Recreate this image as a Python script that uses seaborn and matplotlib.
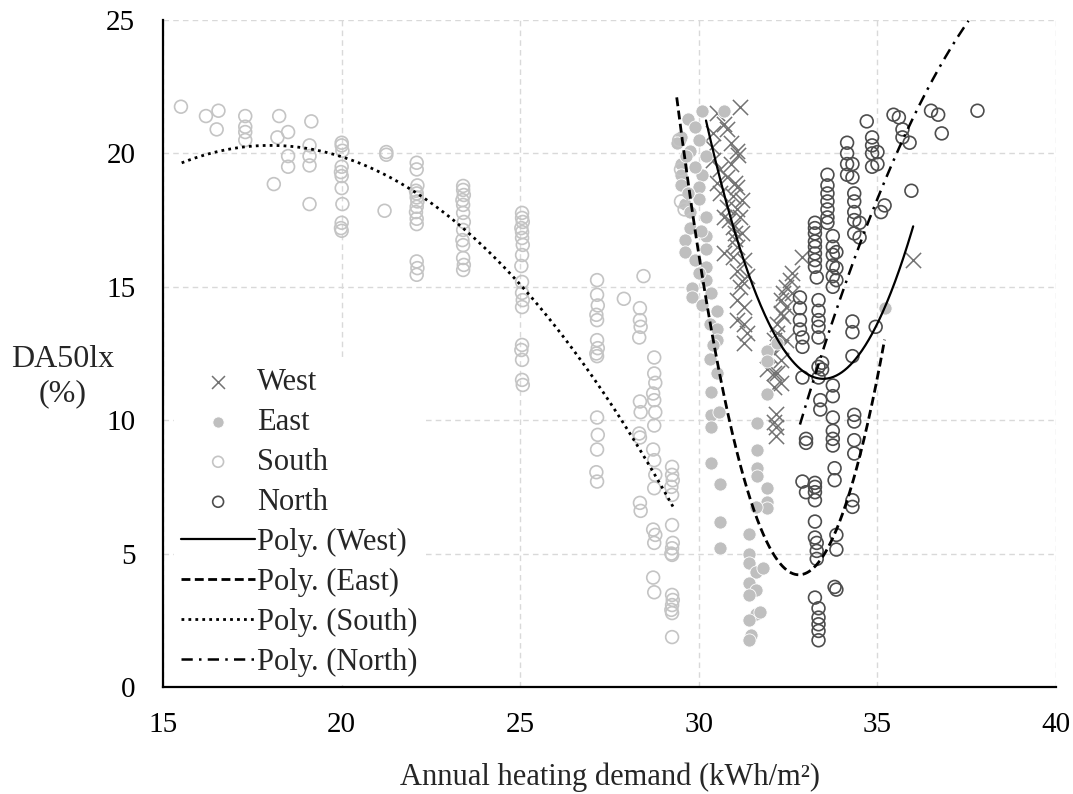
import numpy as np
import pandas as pd
import matplotlib
matplotlib.use("Agg")
import matplotlib.pyplot as plt
import seaborn as sns

# ---- scatter data: annual heating demand (kWh/m2) vs DA50lx (%) ----
west_x = [31.15, 30.5, 30.7, 30.4, 30.8, 30.37, 31.07, 31.1, 30.4, 30.6, 30.8, 30.5, 31.07, 30.6,
          30.95, 31.2, 30.8, 31.07, 30.7, 31.15, 30.95, 31.2, 30.7, 31.07, 30.95, 31.25, 31.07, 31.35,
          31.15, 31.07, 31.25, 31.07, 31.25, 31.35, 31.25, 32.3, 32.2, 32.3, 32.9, 32.6, 32.55, 32.45,
          32.35, 32.6, 32.3, 32.45, 32.35, 32.2, 32.1, 32.45, 32.0, 32.3, 31.9, 32.2, 36.0, 32.1,
          32.3, 32.1, 32.15, 32.15, 32.15, 32.1, 30.9, 31.0, 30.85, 31.0, 31.2, 30.9, 31.0]
west_y = [21.75, 21.5, 21.1, 20.75, 20.9, 20.25, 20.1, 19.95, 19.75, 19.4, 19.1, 18.9, 18.75, 18.5,
          18.4, 18.25, 18.0, 17.9, 17.6, 17.6, 17.25, 17.0, 16.25, 16.5, 16.1, 16.0, 15.6, 15.4,
          15.0, 14.5, 14.25, 13.75, 13.6, 13.25, 12.9, 14.0, 13.25, 12.75, 16.1, 15.5, 15.25, 15.0,
          14.75, 14.75, 14.5, 14.25, 13.9, 13.6, 13.0, 13.0, 12.4, 12.25, 11.9, 11.75, 16.0, 11.75,
          11.4, 11.25, 10.25, 9.75, 9.4, 9.95, 19.6, 18.9, 17.5, 16.8, 15.2, 20.4, 17.0]

east_x = [29.7, 30.1, 30.7, 29.5, 29.4, 29.75, 30.2, 29.5, 29.5, 30.1, 29.5, 30.0, 29.6, 30.0,
          29.75, 30.2, 29.75, 30.2, 29.6, 29.6, 30.2, 30.2, 29.8, 29.8, 30.2, 30.35, 30.5, 30.3,
          30.5, 30.5, 30.3, 30.5, 30.35, 30.35, 30.55, 30.35, 30.35, 30.6, 30.6, 30.6, 31.63, 31.63,
          31.63, 31.63, 31.9, 31.9, 31.9, 31.6, 31.4, 31.4, 31.4, 31.6, 31.8, 31.4, 31.6, 31.4,
          31.6, 31.4, 31.45, 31.4, 31.9, 31.9, 32.2, 35.2, 31.9, 31.7, 29.9, 30.0, 29.65, 29.9,
          29.7, 30.05, 29.9, 30.0, 30.1, 30.4]
east_y = [21.3, 21.6, 21.6, 20.6, 20.4, 20.1, 19.9, 19.6, 19.2, 19.2, 18.8, 18.75, 18.1, 18.3,
          17.8, 17.6, 17.2, 16.9, 16.75, 16.3, 16.4, 15.75, 14.95, 14.6, 15.25, 14.75, 14.1, 13.6,
          13.4, 13.0, 12.3, 11.75, 11.05, 10.2, 10.3, 9.75, 8.4, 7.6, 6.2, 5.2, 9.9, 8.9,
          8.2, 7.9, 7.45, 6.95, 6.7, 6.75, 5.75, 5.0, 4.65, 4.3, 4.45, 3.9, 3.65, 3.45,
          2.75, 2.5, 1.95, 1.75, 12.6, 12.2, 12.9, 14.2, 11.0, 2.8, 21.0, 20.5, 19.9, 19.5,
          18.5, 17.1, 16.0, 15.5, 14.3, 12.8]

south_x = [15.5, 16.2, 16.55, 16.5, 17.3, 17.3, 17.3, 17.3, 18.25, 18.2, 18.5, 18.1, 18.5, 18.5,
           19.15, 19.1, 19.1, 19.1, 19.1,
           20.0, 20.0, 20.02, 20.0, 19.98, 20.0, 20.0, 20.02, 20.0, 19.98, 20.0,
           21.25, 21.25, 21.2,
           22.1, 22.1, 22.12, 22.08, 22.1, 22.1, 22.12, 22.1, 22.08, 22.1, 22.1, 22.1, 22.12, 22.1,
           23.4, 23.4, 23.42, 23.38, 23.4, 23.4, 23.42, 23.4, 23.38, 23.4, 23.4, 23.42, 23.4,
           25.05, 25.05, 25.07, 25.03, 25.05, 25.05, 25.07, 25.05, 25.03, 25.05, 25.05, 25.07, 25.05,
           25.05, 25.03, 25.05, 25.05, 25.07,
           27.15, 27.15, 27.17, 27.13, 27.15, 27.15, 27.17, 27.13, 27.15, 27.15, 27.17, 27.15, 27.13,
           27.15, 27.9,
           28.35, 28.35, 28.37, 28.33, 28.35, 28.37, 28.33, 28.35, 28.35, 28.37, 28.45,
           28.75, 28.75, 28.78, 28.72, 28.75, 28.78, 28.75, 28.72, 28.75, 28.78, 28.75, 28.72, 28.78,
           28.75, 28.72, 28.75,
           29.25, 29.25, 29.27, 29.23, 29.25, 29.25, 29.27, 29.25, 29.23, 29.25, 29.25, 29.27, 29.25,
           29.23, 29.25, 29.25, 29.45, 29.5, 29.5, 29.6]
south_y = [21.75, 21.4, 21.6, 20.9, 21.4, 21.0, 20.8, 20.5, 21.4, 20.6, 20.8, 18.85, 19.9, 19.5,
           21.2, 20.3, 19.9, 19.55, 18.1,
           20.4, 20.3, 20.1, 19.5, 19.3, 19.15, 18.7, 18.1, 17.4, 17.2, 17.1,
           20.05, 19.95, 17.85,
           19.65, 19.4, 18.8, 18.6, 18.5, 18.35, 18.2, 18.0, 17.8, 17.55, 17.35, 15.95, 15.7, 15.45,
           18.78, 18.63, 18.44, 18.25, 18.07, 17.77, 17.43, 17.13, 16.75, 16.56, 16.08, 15.82, 15.63,
           17.77, 17.58, 17.43, 17.2, 17.05, 16.83, 16.57, 16.19, 15.78, 15.18, 14.77, 14.5, 14.24,
           12.82, 12.63, 12.26, 11.51, 11.32,
           15.25, 14.7, 14.3, 13.95, 13.75, 13.0, 12.7, 12.5, 12.4, 10.1, 9.45, 8.9, 8.05,
           7.7, 14.55,
           14.2, 13.75, 13.5, 13.1, 10.7, 10.3, 9.5, 9.35, 6.9, 6.6, 15.4,
           12.35, 11.75, 11.4, 11.0, 10.75, 10.3, 9.8, 8.9, 8.5, 7.95, 7.45, 5.9, 5.7,
           5.4, 4.1, 3.55,
           8.25, 7.95, 7.75, 7.5, 7.2, 6.07, 5.4, 5.2, 5.0, 4.95, 3.45, 3.26, 3.07,
           2.89, 2.77, 1.87, 20.5, 19.4, 18.2, 17.9]

north_x = [32.83, 32.83, 32.83, 32.83, 32.9, 32.9, 32.9, 33.0, 33.0, 32.9, 33.0,
           33.25, 33.25, 33.25, 33.25, 33.25, 33.25, 33.25, 33.25, 33.3, 33.35, 33.35, 33.35, 33.35,
           33.35, 33.25, 33.25, 33.25, 33.25, 33.25, 33.25, 33.3, 33.3, 33.3, 33.25, 33.35, 33.35,
           33.35, 33.35, 33.35, 33.45, 33.45, 33.4, 33.4, 33.35, 33.35,
           33.6, 33.6, 33.6, 33.6, 33.6, 33.6, 33.6, 33.75, 33.75, 33.75, 33.75, 33.75, 33.75,
           33.85, 33.85, 33.85, 33.75, 33.75, 33.75, 33.75, 33.75, 33.75, 33.8, 33.8, 33.85, 33.85,
           33.8, 33.85,
           34.15, 34.15, 34.15, 34.15, 34.3, 34.3, 34.35, 34.35, 34.35, 34.35, 34.35, 34.5, 34.5,
           34.3, 34.3, 34.3, 34.35, 34.35, 34.35, 34.35, 34.3, 34.3,
           34.7, 34.85, 34.85, 34.85, 34.85, 35.0, 35.0, 34.95, 35.1, 35.2, 35.45, 35.6, 35.7,
           35.7, 35.9, 35.95, 36.5, 36.7, 36.8, 37.8]
north_y = [14.6, 14.2, 13.75, 13.4, 13.1, 12.75, 11.6, 9.3, 9.15, 7.7, 7.3,
           17.4, 17.2, 17.0, 16.7, 16.5, 16.25, 16.0, 15.75, 15.35, 14.5, 14.1, 13.75, 13.5,
           13.1, 7.65, 7.5, 7.3, 7.0, 6.2, 5.6, 5.4, 5.1, 4.8, 3.35, 2.95, 2.6,
           2.35, 2.1, 1.75, 12.15, 11.9, 10.75, 10.4, 12.0, 11.6,
           19.2, 18.8, 18.5, 18.2, 17.9, 17.6, 17.4, 16.9, 16.5, 16.2, 15.8, 15.4, 15.0,
           16.3, 15.7, 15.25, 11.3, 10.9, 10.1, 9.6, 9.3, 9.05, 8.2, 7.75, 5.7, 5.15,
           3.75, 3.65,
           20.4, 20.0, 19.6, 19.2, 19.6, 19.1, 18.5, 18.2, 17.8, 17.5, 17.0, 17.4, 16.85,
           13.7, 13.3, 12.4, 10.2, 9.95, 9.25, 8.75, 7.0, 6.75,
           21.2, 20.6, 20.3, 20.0, 19.5, 20.05, 19.6, 13.5, 17.8, 18.05, 21.45, 21.35, 20.9,
           20.6, 20.4, 18.6, 21.6, 21.45, 20.75, 21.6]

# ---- second-order polynomial trend lines: [a, b, c] for a*x^2 + b*x + c, with x range ----
trend_west = [0.9, -60.264, 1020.37]
trend_east = [1.53, -100.368, 1650.24]
trend_south = [-0.1065, 3.834, -14.206]
trend_north = [-0.272, 22.35, -430.75]
range_west = [30.2, 36.0]
range_east = [29.38, 35.2]
range_south = [15.52, 29.31]
range_north = [32.83, 37.55]

x_ticks = [15, 20, 25, 30, 35, 40]
y_ticks = [0, 5, 10, 15, 20, 25]

sns.set_theme(style="white")
plt.rcParams["font.family"] = ["Liberation Serif", "DejaVu Serif"]

fig = plt.figure(figsize=(10.73, 7.94), dpi=100)
ax = fig.add_axes([0.152, 0.1348, 0.8322, 0.8400])

grid_kw = dict(color="#d9d9d9", linestyle=(0, (4, 3)), linewidth=1.0)
ax.set_axisbelow(True)
ax.grid(True, **grid_kw)

sns.scatterplot(x=west_x, y=west_y, marker="x", s=120, color="#737373",
                linewidth=1.1, label="West", ax=ax, zorder=3)
sns.scatterplot(x=east_x, y=east_y, marker="o", s=90, color="#bfbfbf",
                edgecolor="white", linewidth=0.6, label="East", ax=ax, zorder=3)
sns.scatterplot(x=south_x, y=south_y, marker="o", s=85, color="#c4c4c4",
                facecolor="none", edgecolor="#c4c4c4", linewidth=1.2, label="South",
                ax=ax, zorder=3)
sns.scatterplot(x=north_x, y=north_y, marker="o", s=85, color="#4d4d4d",
                facecolor="none", edgecolor="#4d4d4d", linewidth=1.2, label="North",
                ax=ax, zorder=3)

trend_specs = [
    ("Poly. (West)", trend_west, range_west, "-", 1.6),
    ("Poly. (East)", trend_east, range_east, (0, (3.2, 1.6)), 2.0),
    ("Poly. (South)", trend_south, range_south, (0, (1, 1.5)), 2.0),
    ("Poly. (North)", trend_north, range_north, (0, (4.5, 2.5, 1, 2.5)), 1.8),
]
for label, coef, rng, ls, lw in trend_specs:
    xs = np.linspace(rng[0], rng[1], 300)
    sns.lineplot(x=xs, y=np.polyval(coef, xs), color="black", linestyle=ls,
                 linewidth=lw, label=label, ax=ax, zorder=4)

ax.set_xlim(15, 40)
ax.set_ylim(0, 25)
ax.set_xticks(x_ticks)
ax.set_yticks(y_ticks)
ax.tick_params(axis="both", length=0, labelsize=21, colors="black")
ax.tick_params(axis="x", pad=18)
ax.tick_params(axis="y", pad=20)

for side in ["top", "right"]:
    ax.spines[side].set_visible(False)
for side in ["left", "bottom"]:
    ax.spines[side].set_color("black")
    ax.spines[side].set_linewidth(1.6)
    ax.spines[side].set_zorder(6)

ax.set_xlabel("Annual heating demand (kWh/m²)", fontsize=22)
ax.xaxis.set_label_coords(0.5, -0.136)
ax.xaxis.label.set_va("center")
ax.set_ylabel("DA50lx\n(%)", fontsize=23, rotation=0, ha="center", va="center",
              linespacing=1.25)
ax.yaxis.set_label_coords(-0.113, 0.465)

handles, labels = ax.get_legend_handles_labels()
leg = ax.legend(handles, labels, loc="upper left", bbox_to_anchor=(0.012, 0.49),
                fontsize=22, frameon=True, facecolor="white", edgecolor="none",
                framealpha=1.0, fancybox=False, handlelength=2.4, handletextpad=0.07,
                labelspacing=0.36, borderpad=0.25, borderaxespad=0.0, markerscale=0.85)
leg.set_zorder(5)

fig.savefig("out.png", dpi=100)
